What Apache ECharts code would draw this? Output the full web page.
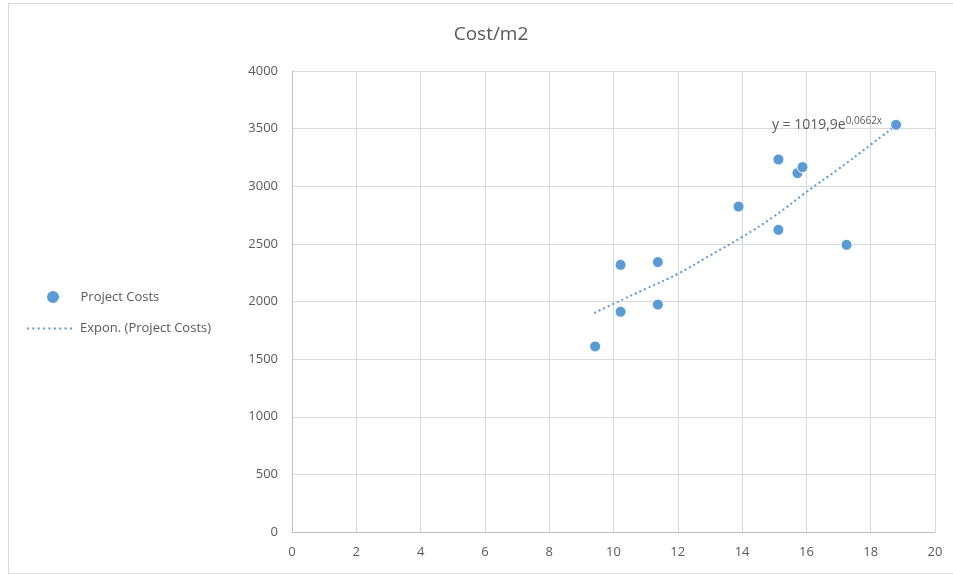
<!DOCTYPE html>
<html><head><meta charset="utf-8">
<script src="https://cdn.jsdelivr.net/npm/echarts@6/dist/echarts.min.js"></script>
<style>html,body{margin:0;padding:0;background:#fff;overflow:hidden}
#frame{position:absolute;left:8px;top:3px;width:980px;height:569px;border:1px solid #d9d9d9}
#c{position:absolute;left:0;top:0;width:953px;height:574px}</style>
</head><body><div id="frame"></div><div id="c"></div>
<script>
var titleText = 'Cost/m2';
var seriesName = 'Project Costs';
var trendName = 'Expon. (Project Costs)';
var equationMain = 'y = 1019,9e';
var equationExp = '0,0662x';
var areaX = [9.43, 10.22, 10.22, 11.38, 11.38, 13.89, 15.13, 15.13, 15.72, 15.88, 17.25, 18.79];
var costY = [1610, 2318, 1911, 2342, 1973, 2824, 3232, 2622, 3114, 3166, 2492, 3533];
var trendX = [9.4, 10, 11, 12, 13, 14, 15, 16, 17, 18, 18.79];
var trendY = [1900, 1980, 2110, 2240, 2400, 2560, 2740, 2950, 3150, 3360, 3530];
var xTicks = [0, 20, 2];
var yTicks = [0, 4000, 500];

var pts = areaX.map(function(x, i){ return [x, costY[i]]; });
var tr = trendX.map(function(x, i){ return [x, trendY[i]]; });
var font = '"Open Sans", "Noto Sans", sans-serif';
// dotted legend icon (9 dots across a 45x2 box)
var dotPath = 'path://';
for (var k = 0; k < 9; k++) { var x0 = k * 5.4; dotPath += 'M' + x0 + ' 0L' + (x0 + 2) + ' 0L' + (x0 + 2) + ' 2L' + x0 + ' 2Z'; }
var legendText = { fontFamily: font, fontSize: 13, color: '#595959' };
var chart = echarts.init(document.getElementById('c'));
chart.setOption({
  animation: false,
  title: { text: titleText, left: 486, textAlign: 'center', top: 20,
    textStyle: { fontFamily: font, fontSize: 19, fontWeight: 'normal', color: '#595959' } },
  grid: { left: 292, right: 18, top: 71, bottom: 42 },
  legend: [
    { left: 40, top: 284, itemWidth: 45, itemHeight: 14, textStyle: legendText,
      data: [{ name: seriesName, icon: 'circle' }] },
    { left: 22, top: 317, itemWidth: 45, itemHeight: 2,
      textStyle: { fontFamily: font, fontSize: 13, color: '#595959', padding: [0, 0, 0, 3] },
      data: [{ name: trendName, icon: dotPath }] }
  ],
  xAxis: { type: 'value', min: xTicks[0], max: xTicks[1], interval: xTicks[2],
    axisLine: { lineStyle: { color: '#bfbfbf' } }, axisTick: { show: false },
    axisLabel: { fontFamily: font, fontSize: 13, color: '#595959', margin: 14 },
    splitLine: { lineStyle: { color: '#d9d9d9' } } },
  yAxis: { type: 'value', min: yTicks[0], max: yTicks[1], interval: yTicks[2],
    axisLine: { show: true, lineStyle: { color: '#bfbfbf' } }, axisTick: { show: false },
    axisLabel: { fontFamily: font, fontSize: 13, color: '#595959', margin: 14,
      formatter: function(v){ return String(v); } },
    splitLine: { lineStyle: { color: '#d9d9d9' } } },
  series: [
    { name: seriesName, type: 'scatter', data: pts, symbolSize: 11, z: 3,
      itemStyle: { color: '#5B9BD5', borderColor: '#fff', borderWidth: 1, opacity: 1 } },
    { name: trendName, type: 'line', data: tr, smooth: true, showSymbol: false, symbol: 'none', z: 2,
      lineStyle: { color: '#5B9BD5', width: 2, type: [2, 3] },
      itemStyle: { color: '#5B9BD5' },
      markPoint: { symbol: 'circle', symbolSize: 0, itemStyle: { color: 'rgba(0,0,0,0)' },
        data: [{ coord: tr[tr.length - 1] }],
        label: { show: true, position: 'left', distance: 14,
          formatter: '{a|' + equationMain + '}{b|' + equationExp + '}',
          rich: { a: { fontFamily: font, fontSize: 14, color: '#595959' },
                  b: { fontFamily: font, fontSize: 10, color: '#595959', verticalAlign: 'top', padding: [0, 0, 8, 0] } } } } }
  ]
});
</script></body></html>
